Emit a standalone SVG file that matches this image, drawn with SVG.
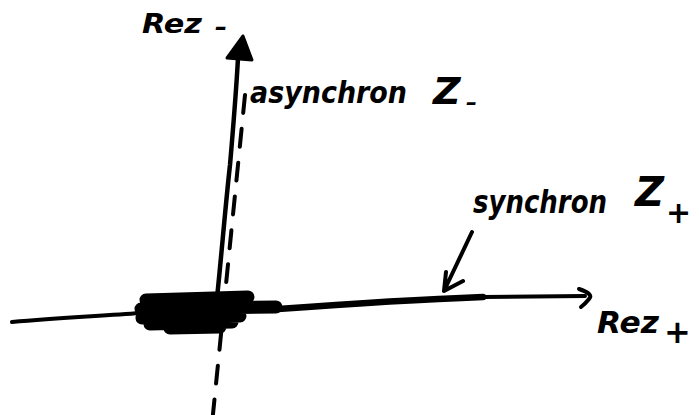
<svg xmlns="http://www.w3.org/2000/svg" width="699" height="415" viewBox="0 0 699 415">
<style>
.ink{fill:none;stroke:#000;stroke-linecap:round;stroke-linejoin:round}
.lbl{font-family:"DejaVu Sans","Liberation Sans",sans-serif;font-weight:bold;font-style:oblique;fill:#000}
</style>
<rect width="699" height="415" fill="#fff"/>
<g id="connectors">
  <g id="axis-re-z-minus">
    <path class="ink" stroke-width="4.5" d="M216,330 L217,298 C221,260 226,200 230,165 C233,130 236,95 238,58"/>
    <polygon points="243,36 227,58 252,60" fill="#000" stroke="#000" stroke-width="3" stroke-linejoin="round"/>
  </g>
  <g id="axis-dashed">
    <path class="ink" stroke-width="4" stroke-dasharray="18 16" d="M245,95 L213,414"/>
  </g>
  <g id="axis-re-z-plus">
    <path class="ink" stroke-width="4" d="M12,322 C60,318 100,316 140,313 L280,309 C380,302 440,298 483,297 L585,296"/>
    <path class="ink" stroke-width="6.5" d="M278,309 C360,303 430,299 483,297"/>
    <path class="ink" stroke-width="4" d="M579,289 Q594,294 589,299 Q585,304 581,307"/>
  </g>
  <g id="pointer">
    <path class="ink" stroke-width="4" d="M472,232 L444,291 M446,272 L444,291 L463,281"/>
  </g>
</g>
<g id="origin-blob">
  <path class="ink" stroke-width="13" d="M146,300 L248,297 M141,309 L276,307 M142,318 L240,316 M150,324 L232,322 M170,328 L220,327"/>
</g>
<g id="label-re-z-minus">
  <text class="lbl" x="142" y="33" font-size="27" textLength="60" lengthAdjust="spacingAndGlyphs">Rez</text>
  <text class="lbl" x="215" y="35" font-size="24">–</text>
</g>
<g id="label-asynchron">
  <text class="lbl" x="250" y="103" font-size="30" textLength="157" lengthAdjust="spacingAndGlyphs">asynchron</text>
  <text class="lbl" x="433" y="104" font-size="38">Z</text>
  <text class="lbl" x="466" y="110" font-size="22">–</text>
</g>
<g id="label-synchron">
  <text class="lbl" x="473" y="213" font-size="32" textLength="134" lengthAdjust="spacingAndGlyphs">synchron</text>
  <text class="lbl" x="635" y="206" font-size="40">Z</text>
  <text class="lbl" x="666" y="223" font-size="30">+</text>
</g>
<g id="label-re-z-plus">
  <text class="lbl" x="597" y="333" font-size="30" textLength="62" lengthAdjust="spacingAndGlyphs">Rez</text>
  <text class="lbl" x="664" y="343" font-size="32">+</text>
</g>
</svg>
